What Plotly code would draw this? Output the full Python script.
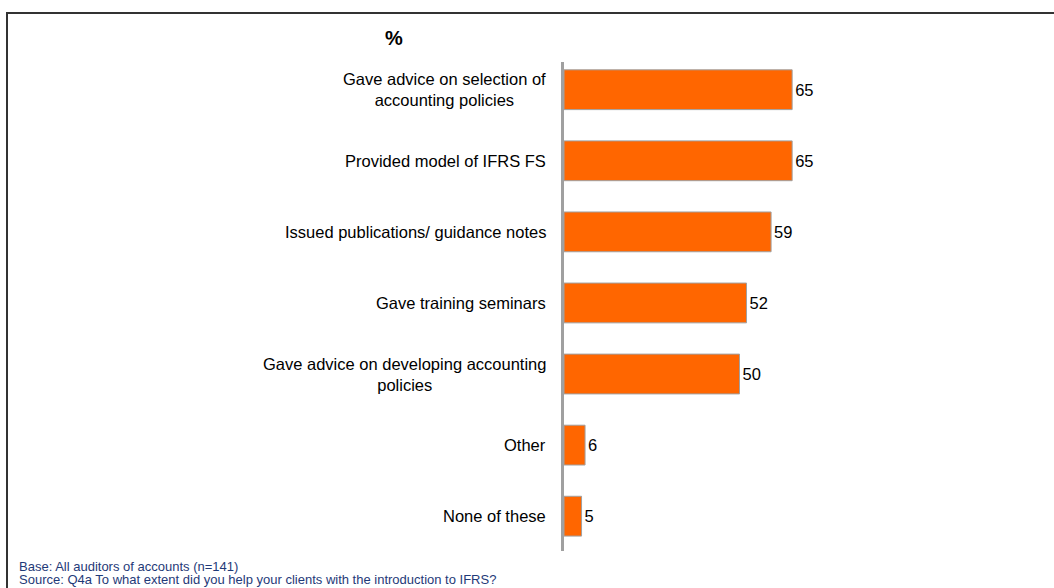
import plotly.graph_objects as go

# ---------------------------------------------------------------------------
# Data
# ---------------------------------------------------------------------------

categories = [
    "Gave advice on selection of<br>accounting policies",
    "Provided model of IFRS FS",
    "Issued publications/ guidance notes",
    "Gave training seminars",
    "Gave advice on developing accounting<br>policies",
    "Other",
    "None of these",
]
values = [65, 65, 59, 52, 50, 6, 5]

title_text = "%"
base_note = "Base: All auditors of accounts (n=141)"
source_note = "Source: Q4a To what extent did you help your clients with the introduction to IFRS?"

# ---------------------------------------------------------------------------
# Layout geometry (pixels)
# ---------------------------------------------------------------------------

W, H = 1054, 588
M_L, M_R, M_T, M_B = 564, 139, 62, 37
PLOT_W = W - M_L - M_R
PLOT_H = H - M_T - M_B


def px_x(px):
    return (px - M_L) / PLOT_W


def px_y(py):
    return (H - M_B - py) / PLOT_H


idx = list(range(len(categories)))
FONT = "Liberation Sans, Arial, sans-serif"

fig = go.Figure()

fig.add_trace(
    go.Bar(
        x=values,
        y=idx,
        orientation="h",
        width=0.56,
        marker=dict(color="#FF6600", line=dict(color="#A0A0A0", width=1)),
        text=[str(v) for v in values],
        textposition="outside",
        textfont=dict(family=FONT, size=16.5, color="#000000"),
        cliponaxis=False,
        hoverinfo="skip",
    )
)

# category labels, centred lines, right-anchored next to the axis
for i, label in zip(idx, categories):
    fig.add_annotation(
        x=0,
        xref="paper",
        y=i,
        yref="y",
        text=label,
        showarrow=False,
        xanchor="right",
        yanchor="middle",
        align="center",
        xshift=-16,
        font=dict(family=FONT, size=16.5, color="#000000"),
    )

# "%" heading
fig.add_annotation(
    x=px_x(394), xref="paper", y=px_y(38), yref="paper",
    text="<b>" + title_text + "</b>", showarrow=False,
    xanchor="center", yanchor="middle",
    font=dict(family=FONT, size=20, color="#000000"),
)

# footnotes
for text, py in [(base_note, 566), (source_note, 579)]:
    fig.add_annotation(
        x=px_x(17), xref="paper", y=px_y(py), yref="paper",
        text=text, showarrow=False, xanchor="left", yanchor="middle",
        font=dict(family=FONT, size=13, color="#1F3A78"),
    )

# outer frame (top and left edges visible)
fig.add_shape(
    type="line", xref="paper", yref="paper",
    x0=px_x(6), x1=px_x(W + 10), y0=px_y(13), y1=px_y(13),
    line=dict(color="#333333", width=2),
)
fig.add_shape(
    type="line", xref="paper", yref="paper",
    x0=px_x(7), x1=px_x(7), y0=px_y(13), y1=px_y(H + 10),
    line=dict(color="#333333", width=2),
)

fig.update_layout(
    width=W,
    height=H,
    margin=dict(l=M_L, r=M_R, t=M_T, b=M_B),
    paper_bgcolor="#FFFFFF",
    plot_bgcolor="#FFFFFF",
    showlegend=False,
    xaxis=dict(
        range=[0, 100],
        showgrid=False,
        zeroline=False,
        showticklabels=False,
        showline=False,
        ticks="",
    ),
    yaxis=dict(
        range=[6.49, -0.39],
        showgrid=False,
        zeroline=False,
        showticklabels=False,
        showline=True,
        linecolor="#A0A0A0",
        linewidth=3,
        ticks="",
    ),
)

fig.write_html(
    "out.html",
    config={"displayModeBar": False},
    post_script="document.body.style.margin='0';document.body.style.overflow='hidden';",
)
